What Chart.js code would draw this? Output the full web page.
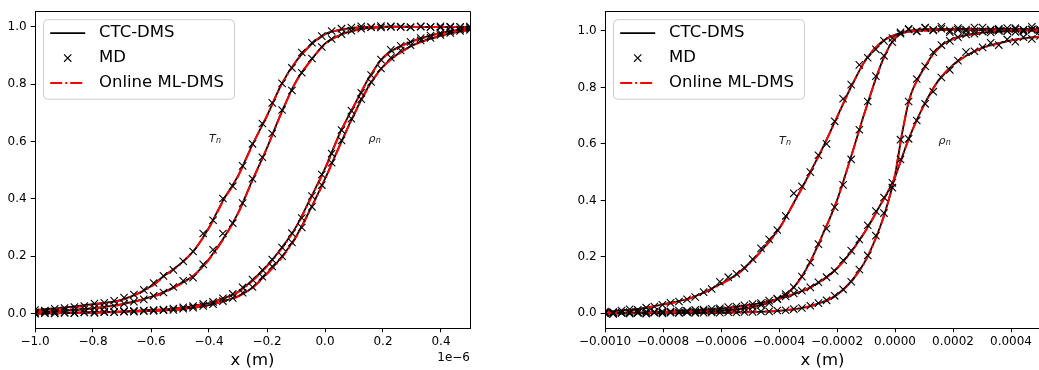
<!DOCTYPE html>
<html>
<head>
<meta charset="utf-8">
<script src="https://cdn.jsdelivr.net/npm/chart.js"></script>
<style>
  html, body { margin: 0; padding: 0; background: #fff; overflow: hidden; }
  #wrap { position: relative; width: 1039px; height: 370px; overflow: hidden; }
  canvas { position: absolute; top: 0; }
  #panelLeft { left: 0; }
  #panelRight { left: 570px; }
</style>
</head>
<body>
<div id="wrap">
  <canvas id="panelLeft" width="480" height="370"></canvas>
  <canvas id="panelRight" width="480" height="370"></canvas>
</div>
<script>
// ---------- shared axis / legend text ----------
const legendLabels = ['CTC-DMS', 'MD', 'Online ML-DMS'];
const yTicks = [0.0, 0.2, 0.4, 0.6, 0.8, 1.0];
const yTickLabels = ['0.0', '0.2', '0.4', '0.6', '0.8', '1.0'];

// ---------- left panel (x in units of 1e-6 m) ----------
const xTicksLeft = [-1.0, -0.8, -0.6, -0.4, -0.2, 0.0, 0.2, 0.4];
const xTickLabelsLeft = ['\u22121.0', '\u22120.8', '\u22120.6', '\u22120.4', '\u22120.2', '0.0', '0.2', '0.4'];

const lineXLeft = [-1.0, -0.9, -0.8, -0.7, -0.6, -0.55, -0.5, -0.45, -0.4, -0.35, -0.3, -0.25, -0.2, -0.15,
                   -0.1, -0.05, 0.0, 0.05, 0.1, 0.15, 0.2, 0.25, 0.3, 0.35, 0.4, 0.45, 0.5];

const ctcTempA_L = [0.012, 0.020, 0.032, 0.048, 0.095, 0.135, 0.172, 0.222, 0.300, 0.397, 0.480, 0.590, 0.690, 0.800,
                    0.880, 0.937, 0.975, 0.990, 0.997, 1.000, 1.001, 1.001, 1.000, 1.000, 1.000, 1.000, 1.000];
const mlTempA_L  = [0.010, 0.018, 0.030, 0.047, 0.093, 0.133, 0.171, 0.222, 0.298, 0.394, 0.478, 0.588, 0.690, 0.798,
                    0.879, 0.936, 0.974, 0.990, 0.997, 1.000, 1.000, 1.000, 1.000, 1.000, 1.000, 1.000, 1.000];
const ctcTempB_L = [0.005, 0.010, 0.018, 0.032, 0.058, 0.077, 0.103, 0.135, 0.190, 0.262, 0.350, 0.466, 0.578, 0.702,
                    0.810, 0.882, 0.942, 0.971, 0.988, 0.996, 1.000, 1.001, 1.001, 1.000, 1.000, 1.000, 1.000];
const mlTempB_L  = [0.004, 0.009, 0.017, 0.031, 0.056, 0.075, 0.101, 0.134, 0.188, 0.260, 0.349, 0.464, 0.578, 0.700,
                    0.808, 0.881, 0.940, 0.970, 0.987, 0.995, 0.999, 1.000, 1.000, 1.000, 1.000, 1.000, 1.000];
const ctcRhoA_L  = [0.000, 0.002, 0.004, 0.007, 0.012, 0.014, 0.019, 0.027, 0.036, 0.053, 0.075, 0.116, 0.166, 0.228,
                    0.302, 0.402, 0.506, 0.627, 0.725, 0.820, 0.893, 0.928, 0.950, 0.966, 0.979, 0.988, 0.995];
const mlRhoA_L   = [0.000, 0.001, 0.003, 0.006, 0.011, 0.014, 0.018, 0.026, 0.036, 0.052, 0.074, 0.114, 0.164, 0.226,
                    0.300, 0.400, 0.504, 0.625, 0.724, 0.818, 0.891, 0.926, 0.949, 0.965, 0.978, 0.987, 0.994];
const ctcRhoB_L  = [0.000, 0.001, 0.003, 0.005, 0.009, 0.011, 0.015, 0.021, 0.029, 0.043, 0.060, 0.090, 0.140, 0.196,
                    0.268, 0.365, 0.470, 0.585, 0.695, 0.792, 0.862, 0.905, 0.935, 0.955, 0.970, 0.982, 0.990];
const mlRhoB_L   = [0.000, 0.001, 0.002, 0.005, 0.008, 0.011, 0.014, 0.020, 0.028, 0.042, 0.059, 0.089, 0.138, 0.194,
                    0.266, 0.363, 0.468, 0.583, 0.693, 0.790, 0.860, 0.903, 0.934, 0.954, 0.969, 0.981, 0.989];

const mdXLeft = [-1.000, -0.966, -0.932, -0.898, -0.864, -0.830, -0.795, -0.761, -0.727, -0.693, -0.659, -0.625,
                 -0.591, -0.557, -0.523, -0.489, -0.455, -0.420, -0.386, -0.352, -0.318, -0.284, -0.250, -0.216,
                 -0.182, -0.148, -0.114, -0.080, -0.045, -0.011, 0.023, 0.057, 0.091, 0.125, 0.159, 0.193,
                 0.227, 0.261, 0.295, 0.330, 0.364, 0.398, 0.432, 0.466, 0.500];
const mdTempA_L = [0.012, 0.010, 0.016, 0.019, 0.022, 0.026, 0.034, 0.037, 0.044, 0.055, 0.066, 0.082,
                   0.106, 0.131, 0.152, 0.182, 0.216, 0.279, 0.325, 0.401, 0.444, 0.515, 0.592, 0.663,
                   0.735, 0.803, 0.857, 0.911, 0.945, 0.968, 0.986, 0.994, 0.998, 1.002, 0.999, 1.003,
                   1.000, 1.001, 0.999, 1.002, 1.000, 0.998, 1.001, 1.000, 0.999];
const mdTempB_L = [0.003, 0.007, 0.006, 0.011, 0.012, 0.014, 0.019, 0.022, 0.026, 0.034, 0.041, 0.049,
                   0.061, 0.073, 0.092, 0.114, 0.125, 0.171, 0.222, 0.279, 0.315, 0.385, 0.470, 0.545,
                   0.628, 0.710, 0.778, 0.840, 0.890, 0.930, 0.958, 0.975, 0.987, 0.994, 1.000, 0.998,
                   1.002, 1.000, 0.999, 1.001, 1.000, 1.002, 0.999, 1.000, 1.001];
const mdRhoA_L  = [0.000, 0.002, 0.001, 0.003, 0.002, 0.004, 0.004, 0.006, 0.005, 0.008, 0.009, 0.010,
                   0.012, 0.013, 0.017, 0.021, 0.026, 0.033, 0.040, 0.053, 0.068, 0.091, 0.118, 0.152,
                   0.188, 0.230, 0.280, 0.333, 0.410, 0.485, 0.558, 0.640, 0.708, 0.770, 0.832, 0.886,
                   0.920, 0.934, 0.948, 0.961, 0.970, 0.979, 0.986, 0.991, 0.995];
const mdRhoB_L  = [-0.001, 0.001, 0.000, 0.002, 0.001, 0.003, 0.002, 0.004, 0.004, 0.006, 0.006, 0.008,
                   0.009, 0.011, 0.012, 0.016, 0.020, 0.026, 0.032, 0.043, 0.054, 0.072, 0.092, 0.128,
                   0.164, 0.200, 0.248, 0.300, 0.372, 0.448, 0.526, 0.604, 0.680, 0.748, 0.808, 0.855,
                   0.893, 0.918, 0.936, 0.953, 0.962, 0.972, 0.979, 0.986, 0.990];

// ---------- right panel (x in units of 1e-4 m) ----------
const xTicksRight = [-10, -8, -6, -4, -2, 0, 2, 4];
const xTickLabelsRight = ['\u22120.0010', '\u22120.0008', '\u22120.0006', '\u22120.0004', '\u22120.0002',
                          '0.0000', '0.0002', '0.0004'];

const lineXRight = [-10, -9, -8, -7, -6, -5.5, -5, -4.5, -4, -3.5, -3, -2.5, -2, -1.5, -1, -0.5, -0.25,
                    0, 0.25, 0.5, 1, 1.5, 2, 2.5, 3, 3.5, 4, 4.5, 5];

const ctcTempA_R = [0.005, 0.014, 0.032, 0.056, 0.105, 0.135, 0.180, 0.235, 0.300, 0.390, 0.485, 0.585, 0.695, 0.805,
                    0.900, 0.958, 0.975, 0.986, 0.993, 0.998, 1.002, 1.004, 1.005, 1.005, 1.005, 1.005, 1.005, 1.005, 1.005];
const mlTempA_R  = [0.004, 0.013, 0.030, 0.055, 0.103, 0.133, 0.178, 0.233, 0.298, 0.388, 0.483, 0.584, 0.694, 0.804,
                    0.899, 0.957, 0.975, 0.986, 0.993, 0.998, 1.001, 1.003, 1.004, 1.004, 1.004, 1.004, 1.004, 1.004, 1.004];
const ctcTempB_R = [0.000, 0.001, 0.003, 0.005, 0.009, 0.013, 0.021, 0.033, 0.054, 0.092, 0.168, 0.278, 0.400, 0.560,
                    0.726, 0.877, 0.935, 0.975, 0.993, 1.001, 1.006, 1.007, 1.007, 1.007, 1.007, 1.007, 1.007, 1.007, 1.007];
const mlTempB_R  = [0.000, 0.001, 0.002, 0.004, 0.008, 0.012, 0.020, 0.032, 0.053, 0.090, 0.166, 0.276, 0.399, 0.559,
                    0.725, 0.876, 0.934, 0.974, 0.992, 1.000, 1.005, 1.006, 1.006, 1.006, 1.006, 1.006, 1.006, 1.006, 1.006];
const ctcRhoA_R  = [0.001, 0.002, 0.005, 0.010, 0.017, 0.023, 0.030, 0.040, 0.052, 0.068, 0.088, 0.118, 0.160, 0.220,
                    0.295, 0.385, 0.430, 0.482, 0.555, 0.625, 0.738, 0.825, 0.880, 0.915, 0.940, 0.955, 0.967, 0.975, 0.980];
const mlRhoA_R   = [0.001, 0.002, 0.004, 0.009, 0.016, 0.022, 0.029, 0.039, 0.051, 0.067, 0.087, 0.117, 0.159, 0.219,
                    0.294, 0.384, 0.430, 0.482, 0.554, 0.624, 0.737, 0.824, 0.879, 0.914, 0.939, 0.954, 0.966, 0.974, 0.979];
const ctcRhoB_R  = [0.000, 0.000, 0.001, 0.001, 0.002, 0.003, 0.004, 0.006, 0.009, 0.014, 0.024, 0.040, 0.066, 0.115,
                    0.190, 0.310, 0.390, 0.490, 0.640, 0.760, 0.868, 0.940, 0.972, 0.986, 0.994, 0.998, 1.000, 1.001, 1.001];
const mlRhoB_R   = [0.000, 0.000, 0.001, 0.001, 0.002, 0.003, 0.004, 0.006, 0.009, 0.014, 0.023, 0.039, 0.065, 0.114,
                    0.189, 0.309, 0.390, 0.492, 0.640, 0.758, 0.866, 0.938, 0.971, 0.985, 0.993, 0.997, 0.999, 1.000, 1.000];

const mdXRight = [-10.00, -9.72, -9.43, -9.15, -8.87, -8.58, -8.30, -8.02, -7.74, -7.45, -7.17, -6.89, -6.60, -6.32,
                  -6.04, -5.75, -5.47, -5.19, -4.91, -4.62, -4.34, -4.06, -3.77, -3.49, -3.21, -2.92, -2.64, -2.36,
                  -2.08, -1.79, -1.51, -1.23, -0.94, -0.66, -0.38, -0.09, 0.19, 0.47, 0.75, 1.04, 1.32, 1.60,
                  1.89, 2.17, 2.45, 2.74, 3.02, 3.30, 3.58, 3.87, 4.15, 4.43, 4.72, 5.00];
const mdTempA_R = [0.006, 0.004, 0.010, 0.014, 0.012, 0.020, 0.024, 0.030, 0.037, 0.042, 0.050, 0.058, 0.075, 0.086,
                   0.112, 0.128, 0.140, 0.160, 0.192, 0.230, 0.262, 0.295, 0.345, 0.425, 0.450, 0.500, 0.560, 0.600,
                   0.680, 0.760, 0.810, 0.880, 0.905, 0.935, 0.965, 0.975, 0.990, 1.005, 0.998, 1.010, 1.002, 1.008,
                   0.996, 1.004, 1.000, 1.012, 0.998, 1.005, 1.000, 1.010, 0.997, 1.003, 1.006, 1.000];
const mdTempB_R = [0.002, -0.002, 0.003, 0.000, 0.004, 0.001, 0.005, 0.002, 0.006, 0.003, 0.007, 0.005, 0.009, 0.007,
                   0.012, 0.011, 0.016, 0.018, 0.023, 0.030, 0.036, 0.052, 0.068, 0.092, 0.130, 0.180, 0.245, 0.300,
                   0.376, 0.455, 0.545, 0.650, 0.750, 0.840, 0.912, 0.960, 0.995, 1.008, 1.000, 1.012, 1.004, 1.015,
                   1.002, 1.010, 1.005, 1.000, 1.012, 1.003, 1.008, 1.000, 1.010, 1.004, 1.015, 1.006];
const mdRhoA_R  = [0.000, 0.003, 0.001, 0.004, 0.003, 0.006, 0.004, 0.007, 0.006, 0.010, 0.009, 0.012, 0.013, 0.016,
                   0.018, 0.022, 0.024, 0.028, 0.033, 0.036, 0.045, 0.050, 0.060, 0.070, 0.080, 0.092, 0.110, 0.128,
                   0.150, 0.188, 0.222, 0.262, 0.312, 0.362, 0.410, 0.462, 0.545, 0.618, 0.683, 0.742, 0.785, 0.835,
                   0.862, 0.895, 0.925, 0.928, 0.942, 0.958, 0.950, 0.970, 0.962, 0.978, 0.972, 0.982];
const mdRhoB_R  = [0.001, -0.001, 0.002, 0.000, 0.001, -0.001, 0.002, 0.000, 0.002, 0.001, 0.003, 0.001, 0.002, 0.003,
                   0.002, 0.004, 0.003, 0.005, 0.005, 0.007, 0.007, 0.010, 0.011, 0.015, 0.019, 0.027, 0.036, 0.046,
                   0.062, 0.085, 0.112, 0.155, 0.205, 0.275, 0.355, 0.445, 0.615, 0.750, 0.830, 0.875, 0.925, 0.950,
                   0.965, 0.978, 0.988, 0.990, 0.998, 0.995, 1.004, 1.000, 1.006, 0.998, 1.004, 1.001];

// ---------- drawing ----------
const FAMILY = '"DejaVu Sans", "Liberation Sans", sans-serif';
const RED = '#ff0000';
const DASHDOT = [12, 3, 2, 3];

const toPoints = (xs, ys) => xs.map((x, i) => ({ x: x, y: ys[i] }));

// frame, legend, curve annotations and axis offset text
const decorPlugin = {
  id: 'decor',
  afterDatasetsDraw(chart) {
    const a = chart.chartArea, ctx = chart.ctx;
    ctx.save();
    ctx.strokeStyle = '#000';
    ctx.lineWidth = 1;
    ctx.beginPath();
    ctx.moveTo(Math.round(a.left) + 0.5, Math.round(a.top) + 0.5);
    ctx.lineTo(Math.round(a.right) + 0.5, Math.round(a.top) + 0.5);
    ctx.lineTo(Math.round(a.right) + 0.5, Math.round(a.bottom) + 0.5);
    ctx.stroke();
    ctx.restore();
  },
  afterDraw(chart, args, opts) {
    const a = chart.chartArea, ctx = chart.ctx;
    const xs = chart.scales.x, ys = chart.scales.y;

    // curve labels
    ctx.save();
    ctx.fillStyle = '#1a1a1a';
    ctx.textAlign = 'left';
    ctx.textBaseline = 'alphabetic';
    opts.labels.forEach(l => {
      const px = xs.getPixelForValue(l.x), py = ys.getPixelForValue(l.y);
      ctx.font = 'italic 11px ' + FAMILY;
      ctx.fillText(l.main, px, py);
      const w = ctx.measureText(l.main).width;
      ctx.font = 'italic 8px ' + FAMILY;
      ctx.fillText(l.sub, px + w + 0.2, py + 1.5);
    });
    ctx.restore();

    // legend
    const bx = a.left + 8.5, by = a.top + 8.5, bw = 191, bh = 79.5, r = 4;
    ctx.save();
    ctx.beginPath();
    ctx.moveTo(bx + r, by);
    ctx.lineTo(bx + bw - r, by);
    ctx.arcTo(bx + bw, by, bx + bw, by + r, r);
    ctx.lineTo(bx + bw, by + bh - r);
    ctx.arcTo(bx + bw, by + bh, bx + bw - r, by + bh, r);
    ctx.lineTo(bx + r, by + bh);
    ctx.arcTo(bx, by + bh, bx, by + bh - r, r);
    ctx.lineTo(bx, by + r);
    ctx.arcTo(bx, by, bx + r, by, r);
    ctx.closePath();
    ctx.fillStyle = 'rgba(255,255,255,0.8)';
    ctx.fill();
    ctx.strokeStyle = '#cccccc';
    ctx.lineWidth = 1;
    ctx.stroke();

    const rows = [by + 13.4, by + 38.4, by + 63.4];
    const h0 = bx + 6.7, h1 = bx + 41.7;
    ctx.lineCap = 'butt';
    // solid line entry
    ctx.strokeStyle = '#000';
    ctx.lineWidth = 1.8;
    ctx.beginPath(); ctx.moveTo(h0, rows[0]); ctx.lineTo(h1, rows[0]); ctx.stroke();
    // marker entry
    const mx = (h0 + h1) / 2, my = rows[1], m = 3.65;
    ctx.lineWidth = 1.1;
    ctx.beginPath();
    ctx.moveTo(mx - m, my - m); ctx.lineTo(mx + m, my + m);
    ctx.moveTo(mx - m, my + m); ctx.lineTo(mx + m, my - m);
    ctx.stroke();
    // dash-dot entry
    ctx.strokeStyle = RED;
    ctx.lineWidth = 2;
    ctx.setLineDash(DASHDOT);
    ctx.beginPath(); ctx.moveTo(h0, rows[2]); ctx.lineTo(h1, rows[2]); ctx.stroke();
    ctx.setLineDash([]);

    ctx.fillStyle = '#000';
    ctx.font = '16.5px ' + FAMILY;
    ctx.textAlign = 'left';
    ctx.textBaseline = 'middle';
    legendLabels.forEach((t, i) => ctx.fillText(t, bx + 55.5, rows[i]));
    ctx.restore();

    // axis offset text
    if (opts.offsetText) {
      ctx.save();
      ctx.fillStyle = '#000';
      ctx.font = '12px ' + FAMILY;
      ctx.textAlign = 'right';
      ctx.textBaseline = 'middle';
      ctx.fillText(opts.offsetText, a.right, 357.5);
      ctx.restore();
    }
  }
};

function buildPanel(canvasId, cfg) {
  const datasets = [];
  cfg.curves.forEach(c => {
    datasets.push({
      label: legendLabels[0], data: toPoints(cfg.lineX, c.ctc), showLine: true,
      borderColor: '#000', borderWidth: 1.8, pointRadius: 0,
      cubicInterpolationMode: 'monotone', order: 2
    });
    datasets.push({
      label: legendLabels[2], data: toPoints(cfg.lineX, c.ml), showLine: true,
      borderColor: RED, borderWidth: 2, borderDash: DASHDOT, pointRadius: 0,
      cubicInterpolationMode: 'monotone', order: 1
    });
    datasets.push({
      label: legendLabels[1], data: toPoints(cfg.mdX, c.md), showLine: false,
      pointStyle: 'crossRot', pointRadius: 5.2, pointBorderWidth: 1.1,
      pointBorderColor: '#000', pointBackgroundColor: '#000', order: 0
    });
  });

  const tickFont = { family: FAMILY, size: 12 };
  return new Chart(document.getElementById(canvasId), {
    type: 'scatter',
    data: { datasets: datasets },
    plugins: [decorPlugin],
    options: {
      responsive: false,
      animation: false,
      devicePixelRatio: 1,
      events: [],
      layout: { padding: { left: 0, right: 10, top: 5, bottom: 0 } },
      plugins: {
        legend: { display: false },
        tooltip: { enabled: false },
        decor: { labels: cfg.labels, offsetText: cfg.offsetText }
      },
      scales: {
        x: {
          type: 'linear', bounds: 'data', min: cfg.xMin, max: cfg.xMax,
          afterBuildTicks: s => { s.ticks = cfg.xTicks.map(v => ({ value: v })); },
          afterFit: s => { s.height = 42; },
          ticks: {
            callback: (v, i) => cfg.xTickLabels[i], font: tickFont, color: '#000',
            padding: 2.7, maxRotation: 0, minRotation: 0, autoSkip: false
          },
          grid: { drawOnChartArea: false, drawTicks: true, tickLength: 4.3, color: '#000', lineWidth: 1 },
          border: { display: true, color: '#000', width: 1 },
          title: {
            display: true, text: 'x (m)', color: '#000',
            font: { family: FAMILY, size: 16.5, lineHeight: 1 }, padding: { top: 0, bottom: 1 }
          }
        },
        y: {
          type: 'linear', bounds: 'data', min: cfg.yMin, max: cfg.yMax,
          afterBuildTicks: s => { s.ticks = yTicks.map(v => ({ value: v })); },
          afterFit: s => { s.width = 35; },
          ticks: { callback: (v, i) => yTickLabels[i], font: tickFont, color: '#000', padding: 4, autoSkip: false },
          grid: { drawOnChartArea: false, drawTicks: true, tickLength: 4.3, color: '#000', lineWidth: 1 },
          border: { display: true, color: '#000', width: 1 }
        }
      }
    }
  });
}

buildPanel('panelLeft', {
  xMin: -1.0, xMax: 0.5, yMin: -0.051, yMax: 1.055,
  xTicks: xTicksLeft, xTickLabels: xTickLabelsLeft,
  lineX: lineXLeft, mdX: mdXLeft,
  curves: [
    { ctc: ctcTempA_L, ml: mlTempA_L, md: mdTempA_L },
    { ctc: ctcTempB_L, ml: mlTempB_L, md: mdTempB_L },
    { ctc: ctcRhoA_L, ml: mlRhoA_L, md: mdRhoA_L },
    { ctc: ctcRhoB_L, ml: mlRhoB_L, md: mdRhoB_L }
  ],
  labels: [
    { x: -0.4, y: 0.6, main: 'T', sub: 'n' },
    { x: 0.15, y: 0.6, main: '\u03C1', sub: 'n' }
  ],
  offsetText: '1e\u22126'
});

buildPanel('panelRight', {
  xMin: -10, xMax: 5, yMin: -0.052, yMax: 1.070,
  xTicks: xTicksRight, xTickLabels: xTickLabelsRight,
  lineX: lineXRight, mdX: mdXRight,
  curves: [
    { ctc: ctcTempA_R, ml: mlTempA_R, md: mdTempA_R },
    { ctc: ctcTempB_R, ml: mlTempB_R, md: mdTempB_R },
    { ctc: ctcRhoA_R, ml: mlRhoA_R, md: mdRhoA_R },
    { ctc: ctcRhoB_R, ml: mlRhoB_R, md: mdRhoB_R }
  ],
  labels: [
    { x: -4, y: 0.6, main: 'T', sub: 'n' },
    { x: 1.5, y: 0.6, main: '\u03C1', sub: 'n' }
  ],
  offsetText: null
});
</script>
</body>
</html>
